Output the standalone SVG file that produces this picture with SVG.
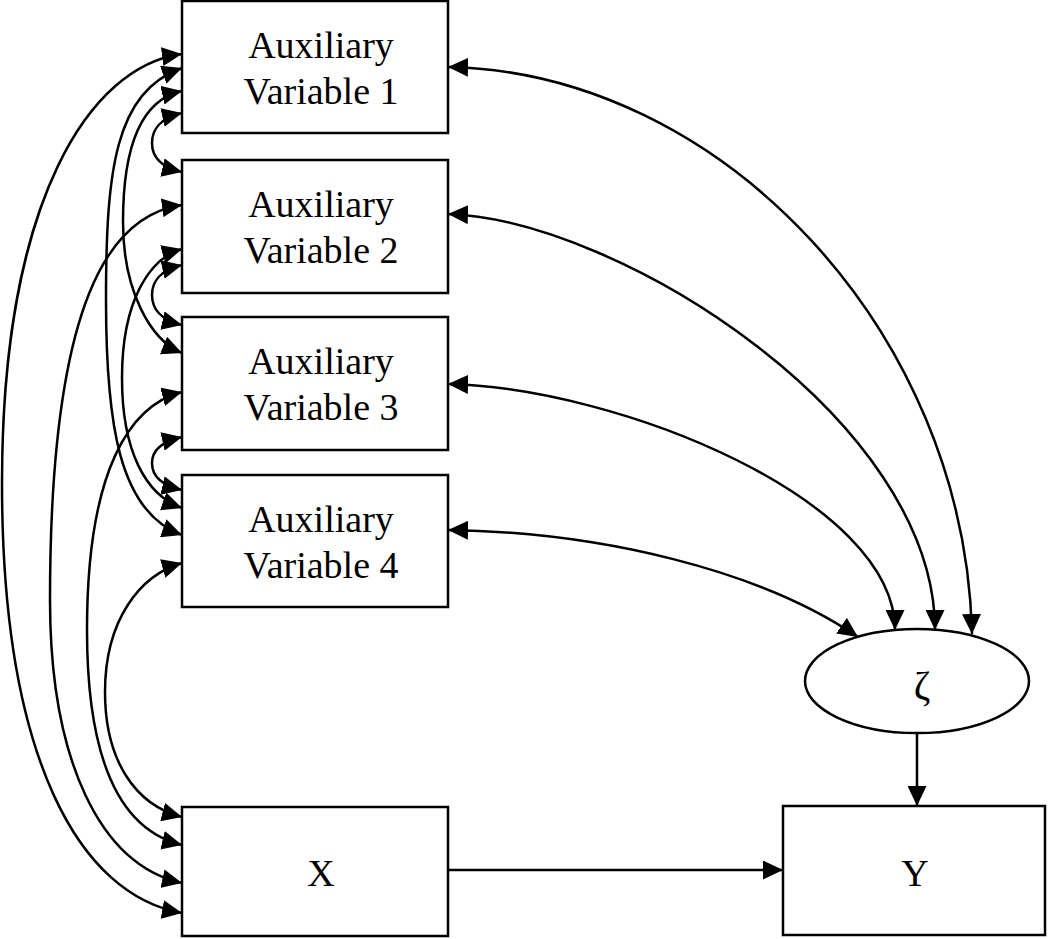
<svg xmlns="http://www.w3.org/2000/svg" width="1050" height="939" viewBox="0 0 1050 939">
<style>
.box{fill:#fff;stroke:#000;stroke-width:2.5}
.lbl{font-family:"Liberation Serif","Times New Roman",serif;font-size:38px;fill:#000;text-anchor:middle}
.c{fill:none;stroke:#000;stroke-width:2.5}
.bi{marker-start:url(#ah);marker-end:url(#ah)}
.uni{marker-end:url(#ah)}
</style>
<defs>
<marker id="ah" markerUnits="userSpaceOnUse" viewBox="0 0 20 19" markerWidth="20" markerHeight="19" refX="20" refY="9.5" orient="auto-start-reverse">
<path d="M0,0 L20,9.5 L0,19 z" fill="#000"/>
</marker>
</defs>
<rect width="1050" height="939" fill="#fff"/>
<g id="connectors">
<path class="c bi" d="M182,54 C90,66 2,200 2,483 C2,760 80,895 182,913"/>
<path class="c bi" d="M182,68 C115,92 106,170 106,300 C106,420 118,512 182,535"/>
<path class="c bi" d="M182,91 C140,100 123,150 123,222 C123,290 150,340 182,353"/>
<path class="c bi" d="M182,113 C160,118 152,130 152,143 C152,156 160,167 182,172"/>
<path class="c bi" d="M182,205 C110,215 50,300 50,600 C50,760 100,865 182,883"/>
<path class="c bi" d="M182,249 C150,258 122,300 122,378 C122,450 145,495 182,508"/>
<path class="c bi" d="M182,265 C160,270 152,282 152,295 C152,308 160,320 182,325"/>
<path class="c bi" d="M182,392 C130,405 87,470 87,630 C87,760 120,830 182,845"/>
<path class="c bi" d="M182,437 C160,442 152,451 152,463 C152,475 160,485 182,490"/>
<path class="c bi" d="M182,563 C140,575 105,620 105,692 C105,760 135,805 182,817"/>
<path class="c bi" d="M448,67 C720,72 965,330 972,634"/>
<path class="c bi" d="M448,214 C620,220 935,420 935,630"/>
<path class="c bi" d="M448,384 C620,388 895,500 895,630"/>
<path class="c bi" d="M448,530 C600,532 760,570 858,637"/>
<path class="c uni" d="M448,870 L783,870"/>
<path class="c uni" d="M917,733 L917,806"/>
</g>
<g id="av1"><rect class="box" x="182" y="1" width="266" height="132"/><text class="lbl" x="321" y="58">Auxiliary</text><text class="lbl" x="321" y="104">Variable 1</text></g>
<g id="av2"><rect class="box" x="182" y="160" width="266" height="133"/><text class="lbl" x="321" y="217">Auxiliary</text><text class="lbl" x="321" y="263">Variable 2</text></g>
<g id="av3"><rect class="box" x="182" y="317" width="266" height="133"/><text class="lbl" x="321" y="374">Auxiliary</text><text class="lbl" x="321" y="420">Variable 3</text></g>
<g id="av4"><rect class="box" x="182" y="475" width="266" height="132"/><text class="lbl" x="321" y="532">Auxiliary</text><text class="lbl" x="321" y="578">Variable 4</text></g>
<g id="x"><rect class="box" x="182" y="807" width="266" height="129"/><text class="lbl" x="321" y="886">X</text></g>
<g id="y"><rect class="box" x="783" y="806" width="262" height="129"/><text class="lbl" x="915" y="886">Y</text></g>
<g id="zeta"><ellipse class="box" cx="917" cy="681" rx="112" ry="52"/><text class="lbl" x="922" y="699" style="font-size:40px">ζ</text></g>
</svg>
